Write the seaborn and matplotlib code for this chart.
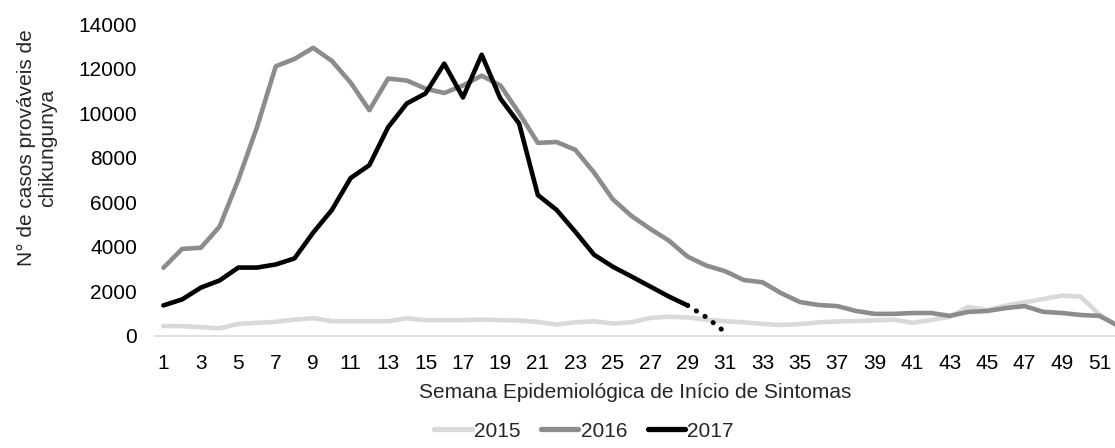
import pandas as pd
import matplotlib.pyplot as plt
import seaborn as sns

# --- データ ---
semanas = list(range(1, 53))
casos_2015 = [430, 430, 380, 330, 530, 580, 620, 720, 790, 650,
              650, 650, 650, 780, 700, 700, 700, 720, 700, 680,
              620, 500, 600, 650, 550, 600, 800, 850, 820, 720,
              650, 600, 530, 480, 520, 600, 640, 660, 690, 720,
              580, 700, 850, 1300, 1150, 1350, 1500, 1650, 1800, 1750,
              950, 400]
casos_2016 = [3050, 3900, 3950, 4900, 7000, 9370, 12100, 12430, 12930, 12340,
              11370, 10130, 11550, 11460, 11100, 10900, 11240, 11680, 11240, 10000,
              8660, 8700, 8350, 7330, 6130, 5380, 4800, 4270, 3550, 3150,
              2900, 2500, 2400, 1910, 1510, 1380, 1330, 1110, 980, 980,
              1020, 1020, 890, 1070, 1110, 1240, 1330, 1070, 1020, 930,
              890, 450]
semanas_2017 = list(range(1, 30))
casos_2017 = [1360, 1630, 2160, 2480, 3060, 3060, 3200, 3470, 4630, 5650,
              7080, 7660, 9360, 10430, 10880, 12220, 10700, 12620, 10650, 9530,
              6320, 5650, 4670, 3640, 3100, 2660, 2210, 1760, 1360]
# 点線部分（29〜31週）
semanas_2017_pont = [29, 30, 31]
casos_2017_pont = [1360, 830, 160]

cores = {"2015": "#d9d9d9", "2016": "#8c8c8c", "2017": "#000000"}

sns.set_style("white")
plt.rcParams["font.family"] = ["Liberation Sans", "DejaVu Sans"]
fs = 15

fig = plt.figure(figsize=(11.15, 4.48), dpi=100)
ax = fig.add_axes([155 / 1115, 1 - 335.7 / 448, 1 - 155 / 1115, (335.7 - 24) / 448])

sns.lineplot(x=semanas, y=casos_2015, ax=ax, color=cores["2015"], lw=3.3,
             label="2015", solid_capstyle="round")
sns.lineplot(x=semanas, y=casos_2016, ax=ax, color=cores["2016"], lw=3.3,
             label="2016", solid_capstyle="round")
sns.lineplot(x=semanas_2017, y=casos_2017, ax=ax, color=cores["2017"], lw=3.3,
             label="2017", solid_capstyle="round")
sns.lineplot(x=semanas_2017_pont, y=casos_2017_pont, ax=ax, color=cores["2017"],
             lw=3.6, linestyle=(0, (0.05, 2.0)), dash_capstyle="round", legend=False)

ax.set_xlim(0.55, 51.83)
ax.set_ylim(0, 14000)
ax.set_xticks(range(1, 52, 2))
ax.set_yticks(range(0, 14001, 2000))
ax.tick_params(axis="both", labelsize=fs, length=0, colors="#000000")
ax.tick_params(axis="y", pad=13)
ax.tick_params(axis="x", pad=13)
for s in ["top", "right", "left"]:
    ax.spines[s].set_visible(False)
ax.spines["bottom"].set_color("#d9d9d9")
ax.spines["bottom"].set_linewidth(1.2)

ax.set_xlabel("")
ax.set_ylabel("")
fig.text(635 / 1115, 1 - 392 / 448, "Semana Epidemiológica de Início de Sintomas",
         ha="center", va="center", fontsize=fs)
fig.text(37 / 1115, 1 - 148 / 448, "N° de casos prováveis de\nchikungunya",
         ha="center", va="center", rotation=90, fontsize=fs,
         multialignment="center", linespacing=1.15)

leg = ax.legend(loc="center", bbox_to_anchor=(584 / 1115, 1 - 431 / 448),
                bbox_transform=fig.transFigure, ncol=3, frameon=False,
                fontsize=fs, handlelength=1.8, handletextpad=0.1,
                columnspacing=1.0, borderaxespad=0)
for h in leg.get_lines():
    h.set_linewidth(3.8)

fig.savefig("out.png", dpi=100)
